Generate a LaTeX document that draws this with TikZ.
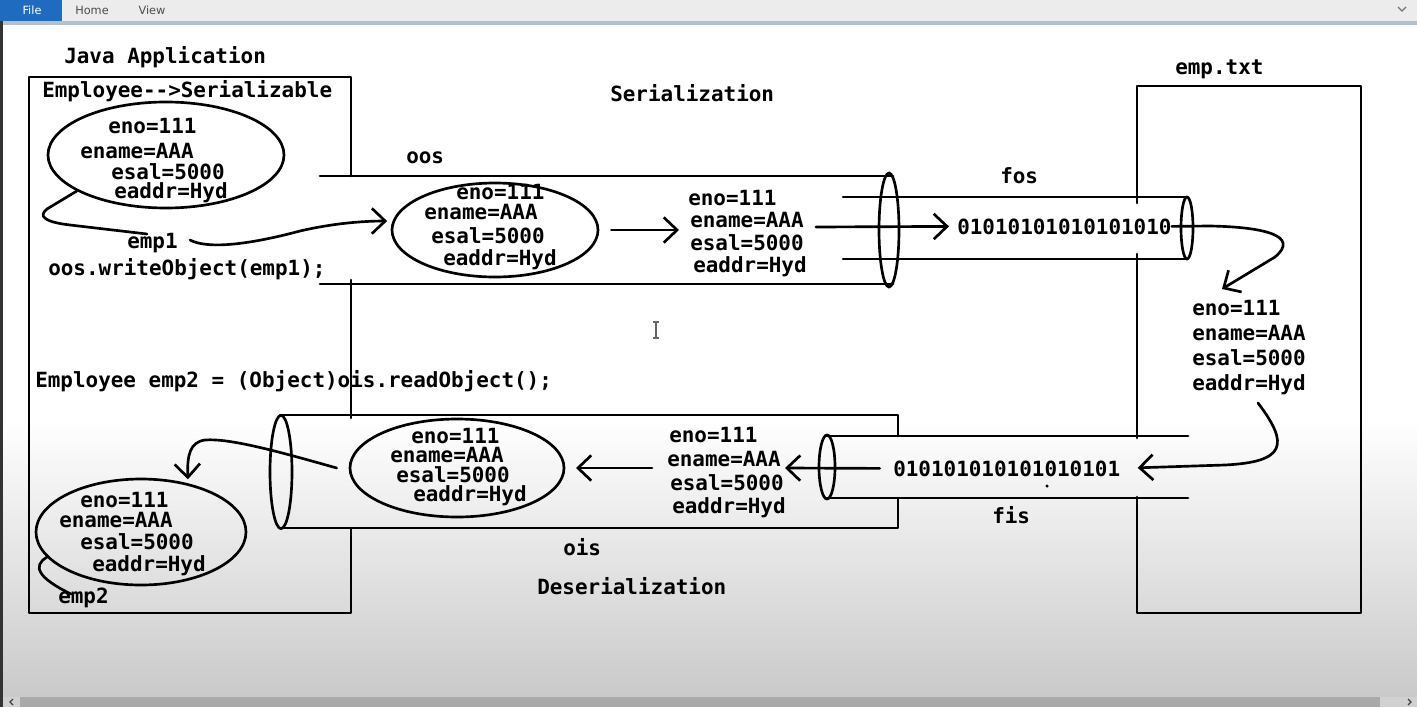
\documentclass[tikz,border=0pt]{standalone}
\usepackage{fontspec}
\setmonofont{DejaVu Sans Mono}
\setsansfont{DejaVu Sans}
\usetikzlibrary{arrows.meta,shapes.geometric}
\definecolor{tabblue}{HTML}{1F6BBF}
\definecolor{barline}{HTML}{B4C0CC}
\definecolor{uigray}{HTML}{ECECEC}
\definecolor{scrollgray}{HTML}{A9A9A9}
\begin{document}
\begin{tikzpicture}[x=0.75pt,y=-0.75pt,
  lbl/.style={font=\ttfamily\bfseries\fontsize{15.7}{18}\selectfont, inner sep=0pt, anchor=base west},
  ui/.style={font=\sffamily\fontsize{8.5}{10}\selectfont, inner sep=0pt},
  ln/.style={line width=2pt, line cap=round, line join=round},
  obj/.style={ellipse, draw, line width=2pt, inner sep=0pt},
  arw/.style={-{Straight Barb[length=10pt,width=19pt]}}]
\useasboundingbox (0,0) rectangle (1417,707);
% ---------- window chrome ----------
\fill[white] (0,0) rectangle (1417,707);
\shade[top color=white, bottom color=black!21] (0,420) rectangle (1417,697);
\fill[uigray] (0,0) rectangle (1417,21);
\fill[barline] (0,21) rectangle (1417,25);
\fill[tabblue] (0,0) rectangle (62,21);
\node[ui, text=white] (filetab) at (32,10.5) {File};
\node[ui, text=black!70] (hometab) at (92,10.5) {Home};
\node[ui, text=black!70] (viewtab) at (152,10.5) {View};
\draw[black!55, line width=1pt] (1398,7) -- (1402,11) -- (1406,7);
\fill[black!80] (0,21) rectangle (3,707);
\fill[scrollgray] (20,697) rectangle (1380,707);
\fill[black!18] (1380,697) rectangle (1417,707);
\fill[black!18] (3,697) rectangle (20,707);
\draw[black!75, line width=1pt] (13,699) -- (10,702) -- (13,705);
\draw[black!75, line width=1pt] (1408,699) -- (1411,702) -- (1408,705);
% text cursor
\draw[black!60, line width=0.8pt] (656,322) -- (656,338) (653,322) -- (659,322) (653,338) -- (659,338);
% ---------- boxes ----------
\draw[ln] (351,176) -- (351,77) -- (29,77) -- (29,613) -- (351,613) -- (351,529);
\draw[ln] (351,280) -- (351,418);
\draw[ln] (1137,203) -- (1137,86) -- (1361,86) -- (1361,613) -- (1137,613) -- (1137,497);
\draw[ln] (1137,254) -- (1137,438);
% ---------- tubes ----------
\draw[ln] (320,176) -- (893,176);
\draw[ln] (320,284) -- (893,284);
\node[obj, minimum width=15pt, minimum height=85.5pt] (oosend) at (889,230) {};
\draw[ln] (843,197) -- (1187,197);
\draw[ln] (843,259) -- (1187,259);
\node[obj, minimum width=9pt, minimum height=46.5pt] (fosend) at (1187,228) {};
\draw[ln] (826,436) -- (1188,436);
\draw[ln] (826,498) -- (1188,498);
\node[obj, minimum width=12pt, minimum height=48pt] (fisend) at (827,467) {};
\draw[ln] (280,415) -- (898,415) -- (898,436);
\draw[ln] (898,498) -- (898,528) -- (280,528);
\node[obj, minimum width=16.5pt, minimum height=85pt] (oisend) at (281,472) {};
% ---------- object ellipses ----------
\node[obj, minimum width=177pt, minimum height=79.5pt] (obj1) at (166,155) {};
\node[obj, minimum width=154.5pt, minimum height=70.5pt] (obj2) at (495,230) {};
\node[obj, minimum width=160.5pt, minimum height=73.5pt] (obj3) at (457,468) {};
\node[obj, minimum width=157.5pt, minimum height=79.5pt] (obj4) at (141,532) {};
% ---------- labels ----------
\node[lbl] (japp) at (64,63) {Java Application};
\node[lbl] (eser) at (42,97) {Employee-->Serializable};
\node[lbl] (o1a) at (108,133) {eno=111};
\node[lbl] (o1b) at (80,158) {ename=AAA};
\node[lbl] (o1c) at (111,179) {esal=5000};
\node[lbl] (o1d) at (114,198) {eaddr=Hyd};
\node[lbl] (emp1) at (127,248) {emp1};
\node[lbl] (wobj) at (48,275) {oos.writeObject(emp1);};
\node[lbl] (oos) at (406,163) {oos};
\node[lbl] (ser) at (610,101) {Serialization};
\node[lbl] (o2a) at (456,199) {eno=111};
\node[lbl] (o2b) at (424,219) {ename=AAA};
\node[lbl] (o2c) at (431,243) {esal=5000};
\node[lbl] (o2d) at (443,265) {eaddr=Hyd};
\node[lbl] (t1a) at (688,205) {eno=111};
\node[lbl] (t1b) at (690,227) {ename=AAA};
\node[lbl] (t1c) at (690,250) {esal=5000};
\node[lbl] (t1d) at (693,272) {eaddr=Hyd};
\node[lbl] (fos) at (1000,183) {fos};
\node[lbl] (bin1) at (957,234) {01010101010101010};
\node[lbl] (emptxt) at (1175,74) {emp.txt};
\node[lbl] (r1) at (1192,315) {eno=111};
\node[lbl] (r2) at (1192,340) {ename=AAA};
\node[lbl] (r3) at (1192,365) {esal=5000};
\node[lbl] (r4) at (1192,390) {eaddr=Hyd};
\node[lbl] (robj) at (35,387) {Employee emp2 = (Object)ois.readObject();};
\node[lbl] (o3a) at (411,443) {eno=111};
\node[lbl] (o3b) at (390,462) {ename=AAA};
\node[lbl] (o3c) at (396,482) {esal=5000};
\node[lbl] (o3d) at (413,501) {eaddr=Hyd};
\node[lbl] (m1) at (669,442) {eno=111};
\node[lbl] (m2) at (667,466) {ename=AAA};
\node[lbl] (m3) at (670,490) {esal=5000};
\node[lbl] (m4) at (672,513) {eaddr=Hyd};
\node[lbl] (bin2) at (893,476) {010101010101010101};
\node[lbl] (fis) at (992,523) {fis};
\node[lbl] (ois) at (563,555) {ois};
\node[lbl] (deser) at (537,594) {Deserialization};
\node[lbl] (o4a) at (80,507) {eno=111};
\node[lbl] (o4b) at (59,527) {ename=AAA};
\node[lbl] (o4c) at (80,549) {esal=5000};
\node[lbl] (o4d) at (92,571) {eaddr=Hyd};
\node[lbl] (emp2) at (58,603) {emp2};
\fill (1047,486) circle (1.3pt);
% ---------- connectors ----------
\coordinate (e1a) at (147,234);
\coordinate (e1b) at (190,240);
\draw[ln] (obj1.202) -- (47,209) .. controls (38,216) and (44,222) .. (70,225) -- (e1a);
\draw[ln, arw, shorten >=4pt] (e1b) .. controls (205,248) and (240,247) .. (300,231) .. controls (330,224) and (360,221) .. (obj2.175);
\coordinate (a2e) at (679,230);
\draw[ln, arw] ([xshift=9pt]obj2.east) -- (a2e);
\coordinate (a3s) at (816,227);
\draw[ln, arw, shorten >=6pt] (a3s) -- (bin1.west);
\coordinate (a4e) at (1222,289);
\draw[ln, arw] (bin1.east) -- (1210,226) .. controls (1265,227) and (1300,236) .. (1275,257) -- (a4e);
\coordinate (a5s) at (1258,403);
\draw[ln, arw, shorten >=13pt] (a5s) .. controls (1290,445) and (1285,462) .. (1225,465) -- (bin2.east);
\coordinate (a6e) at (785,468);
\draw[ln, arw] ([xshift=-10pt]bin2.west) -- (a6e);
\coordinate (a7s) at (652,468);
\draw[ln, arw, shorten >=8pt] (a7s) -- (obj3.east);
\draw[ln, arw, shorten >=3pt] ([xshift=-9pt]obj3.west) .. controls (280,452) and (230,438) .. (205,440) .. controls (190,442) and (187,455) .. (obj4.46);
\coordinate (e2e) at (71,594);
\draw[ln] (obj4.195) .. controls (32,566) and (38,578) .. (e2e);
\end{tikzpicture}
\end{document}
